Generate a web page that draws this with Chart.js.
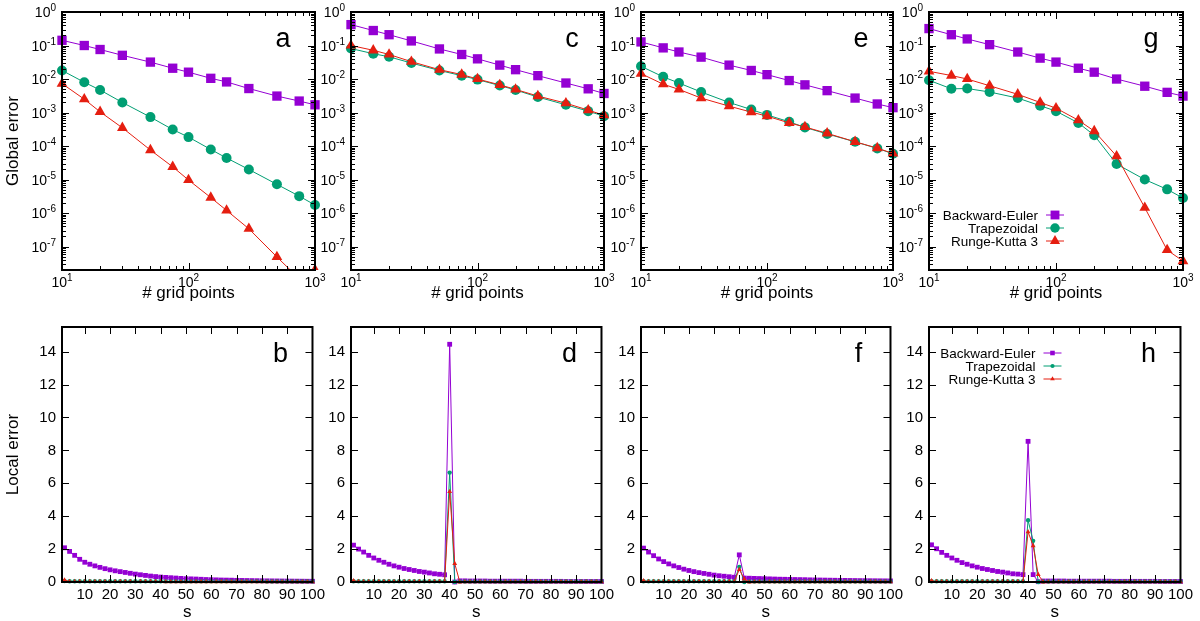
<!DOCTYPE html>
<html>
<head>
<meta charset="utf-8">
<script src="https://cdn.jsdelivr.net/npm/chart.js@4"></script>
<style>
  html, body { margin: 0; padding: 0; background: #fff; }
  #wrap { position: relative; width: 1200px; height: 621px; overflow: hidden; }
  #wrap canvas { position: absolute; }
</style>
</head>
<body>
<div id="wrap"></div>
<script>
// grid sizes used for the global error panels
const gridPoints = [10, 15, 20, 30, 50, 75, 100, 150, 200, 300, 500, 750, 1000];

const beA = [0.143, 0.10, 0.076, 0.051, 0.032, 0.021, 0.016, 0.0105, 0.0082, 0.0052, 0.0031, 0.0022, 0.0017];
const trA = [0.018, 0.0080, 0.0047, 0.0020, 7.3e-4, 3.1e-4, 1.85e-4, 7.9e-5, 4.4e-5, 2.0e-5, 7.2e-6, 3.2e-6, 1.74e-6];
const rkA = [0.0073, 0.0025, 0.00105, 3.5e-4, 7.6e-5, 2.4e-5, 9.7e-6, 2.9e-6, 1.2e-6, 3.4e-7, 4.9e-8, 1.1e-8, 2.0e-8];

const beC = [0.42, 0.28, 0.21, 0.137, 0.079, 0.054, 0.040, 0.026, 0.019, 0.0126, 0.0076, 0.0051, 0.0037];
const trC = [0.081, 0.057, 0.046, 0.030, 0.018, 0.0126, 0.0096, 0.0064, 0.0047, 0.0029, 0.0017, 0.0011, 7.8e-4];
const rkC = [0.10, 0.072, 0.054, 0.033, 0.019, 0.0136, 0.010, 0.0067, 0.0049, 0.0031, 0.0019, 0.00118, 8.3e-4];

const beE = [0.128, 0.085, 0.064, 0.045, 0.026, 0.018, 0.0135, 0.0090, 0.0067, 0.0045, 0.0027, 0.0018, 0.0014];
const trE = [0.024, 0.0116, 0.0076, 0.0041, 0.0020, 0.00123, 8.5e-4, 5.3e-4, 3.6e-4, 2.3e-4, 1.34e-4, 8.5e-5, 5.9e-5];
const rkE = [0.0145, 0.0070, 0.0049, 0.0027, 0.00155, 0.00103, 7.8e-4, 4.9e-4, 3.7e-4, 2.4e-4, 1.34e-4, 8.7e-5, 6.0e-5];

const beG = [0.32, 0.21, 0.157, 0.106, 0.064, 0.042, 0.032, 0.021, 0.016, 0.010, 0.0061, 0.0040, 0.0031];
const trG = [0.0092, 0.0051, 0.0052, 0.0041, 0.0027, 0.0016, 0.0011, 4.9e-4, 2.1e-4, 2.9e-5, 1.0e-5, 5.1e-6, 2.8e-6];
const rkG = [0.017, 0.0127, 0.010, 0.0063, 0.0035, 0.0020, 0.00135, 5.9e-4, 2.8e-4, 5.0e-5, 1.45e-6, 7.9e-8, 3.7e-8];

// s positions for the local error panels
const sPoints = [2, 4, 6, 8, 10, 12, 14, 16, 18, 20, 22, 24, 26, 28, 30, 32, 34, 36, 38, 40,
  42, 44, 46, 48, 50, 52, 54, 56, 58, 60, 62, 64, 66, 68, 70, 72, 74, 76, 78, 80,
  82, 84, 86, 88, 90, 92, 94, 96, 98, 100];

const beB = [2.08, 1.86, 1.62, 1.38, 1.20, 1.08, 0.98, 0.89, 0.81, 0.74, 0.68, 0.63, 0.58, 0.53, 0.48, 0.44, 0.40, 0.36, 0.33, 0.30,
  0.28, 0.26, 0.24, 0.22, 0.20, 0.19, 0.18, 0.165, 0.15, 0.14, 0.13, 0.12, 0.115, 0.11, 0.10, 0.095, 0.09, 0.085, 0.08, 0.075,
  0.07, 0.067, 0.064, 0.06, 0.057, 0.054, 0.051, 0.048, 0.045, 0.043];
const trB = [0.06, 0.05, 0.05, 0.05, 0.05, 0.05, 0.05, 0.05, 0.05, 0.05, 0.05, 0.05, 0.05, 0.05, 0.05, 0.05, 0.05, 0.05, 0.05, 0.05,
  0.04, 0.04, 0.04, 0.04, 0.04, 0.04, 0.04, 0.04, 0.04, 0.04, 0.04, 0.04, 0.04, 0.04, 0.04, 0.04, 0.04, 0.04, 0.04, 0.04,
  0.03, 0.03, 0.03, 0.03, 0.03, 0.03, 0.03, 0.03, 0.03, 0.03];
const rkB = [0.12, 0.02, 0.02, 0.02, 0.02, 0.02, 0.02, 0.02, 0.02, 0.02, 0.02, 0.02, 0.02, 0.02, 0.02, 0.02, 0.02, 0.02, 0.02, 0.02,
  0.01, 0.01, 0.01, 0.01, 0.01, 0.01, 0.01, 0.01, 0.01, 0.01, 0.01, 0.01, 0.01, 0.01, 0.01, 0.01, 0.01, 0.01, 0.01, 0.01,
  0.01, 0.01, 0.01, 0.01, 0.01, 0.01, 0.01, 0.01, 0.01, 0.01];

const beD = [2.24, 2.00, 1.82, 1.62, 1.46, 1.32, 1.20, 1.08, 0.98, 0.90, 0.82, 0.76, 0.70, 0.64, 0.60, 0.55, 0.50, 0.47, 0.44, 14.45,
  0.0, 0.07, 0.07, 0.06, 0.06, 0.06, 0.06, 0.05, 0.05, 0.05, 0.05, 0.05, 0.05, 0.05, 0.04, 0.04, 0.04, 0.04, 0.04, 0.04,
  0.04, 0.04, 0.03, 0.03, 0.03, 0.03, 0.03, 0.03, 0.03, 0.03];
const trD = [0.05, 0.05, 0.05, 0.05, 0.05, 0.05, 0.05, 0.05, 0.05, 0.05, 0.05, 0.05, 0.05, 0.05, 0.05, 0.05, 0.05, 0.05, 0.05, 6.65,
  0.0, 0.03, 0.03, 0.03, 0.03, 0.03, 0.03, 0.03, 0.03, 0.03, 0.03, 0.03, 0.03, 0.03, 0.03, 0.03, 0.03, 0.03, 0.03, 0.03,
  0.03, 0.03, 0.03, 0.03, 0.03, 0.03, 0.03, 0.03, 0.03, 0.03];
const rkD = [0.08, 0.02, 0.02, 0.02, 0.02, 0.02, 0.02, 0.02, 0.02, 0.02, 0.02, 0.02, 0.02, 0.02, 0.02, 0.02, 0.02, 0.02, 0.02, 5.5,
  1.12, 0.0, 0.01, 0.01, 0.01, 0.01, 0.01, 0.01, 0.01, 0.01, 0.01, 0.01, 0.01, 0.01, 0.01, 0.01, 0.01, 0.01, 0.01, 0.01,
  0.01, 0.01, 0.01, 0.01, 0.01, 0.01, 0.01, 0.01, 0.01, 0.01];

const beF = [2.06, 1.82, 1.60, 1.40, 1.24, 1.10, 0.98, 0.88, 0.78, 0.70, 0.63, 0.57, 0.52, 0.47, 0.42, 0.38, 0.35, 0.32, 0.29, 1.65,
  0.24, 0.23, 0.22, 0.21, 0.20, 0.19, 0.18, 0.17, 0.165, 0.16, 0.15, 0.145, 0.14, 0.13, 0.125, 0.12, 0.115, 0.11, 0.105, 0.10,
  0.096, 0.092, 0.088, 0.084, 0.08, 0.077, 0.074, 0.071, 0.068, 0.065];
const trF = [0.05, 0.05, 0.05, 0.05, 0.05, 0.05, 0.05, 0.05, 0.05, 0.05, 0.05, 0.05, 0.05, 0.05, 0.05, 0.05, 0.05, 0.05, 0.05, 0.92,
  0.0, 0.03, 0.03, 0.03, 0.03, 0.03, 0.03, 0.03, 0.03, 0.03, 0.03, 0.03, 0.03, 0.03, 0.03, 0.03, 0.03, 0.03, 0.03, 0.03,
  0.03, 0.03, 0.03, 0.03, 0.03, 0.03, 0.03, 0.03, 0.03, 0.03];
const rkF = [0.08, 0.02, 0.02, 0.02, 0.02, 0.02, 0.02, 0.02, 0.02, 0.02, 0.02, 0.02, 0.02, 0.02, 0.02, 0.02, 0.02, 0.02, 0.02, 0.76,
  0.18, 0.0, 0.01, 0.01, 0.01, 0.01, 0.01, 0.01, 0.01, 0.01, 0.01, 0.01, 0.01, 0.01, 0.01, 0.01, 0.01, 0.01, 0.01, 0.01,
  0.01, 0.01, 0.01, 0.01, 0.01, 0.01, 0.01, 0.01, 0.01, 0.01];

const beH = [2.26, 2.02, 1.80, 1.62, 1.46, 1.32, 1.18, 1.08, 0.98, 0.90, 0.82, 0.76, 0.70, 0.64, 0.60, 0.55, 0.50, 0.48, 0.45, 8.55,
  0.45, 0.02, 0.06, 0.06, 0.06, 0.06, 0.06, 0.05, 0.05, 0.05, 0.05, 0.05, 0.05, 0.05, 0.05, 0.05, 0.04, 0.04, 0.04, 0.04,
  0.04, 0.04, 0.04, 0.04, 0.04, 0.03, 0.03, 0.03, 0.03, 0.03];
const trH = [0.05, 0.05, 0.05, 0.05, 0.05, 0.05, 0.05, 0.05, 0.05, 0.05, 0.05, 0.05, 0.05, 0.05, 0.05, 0.05, 0.05, 0.05, 0.05, 3.75,
  2.5, 0.0, 0.03, 0.03, 0.03, 0.03, 0.03, 0.03, 0.03, 0.03, 0.03, 0.03, 0.03, 0.03, 0.03, 0.03, 0.03, 0.03, 0.03, 0.03,
  0.03, 0.03, 0.03, 0.03, 0.03, 0.03, 0.03, 0.03, 0.03, 0.03];
const rkH = [0.08, 0.02, 0.02, 0.02, 0.02, 0.02, 0.02, 0.02, 0.02, 0.02, 0.02, 0.02, 0.02, 0.02, 0.02, 0.02, 0.02, 0.02, 0.02, 3.05,
  2.2, 0.45, 0.0, 0.01, 0.01, 0.01, 0.01, 0.01, 0.01, 0.01, 0.01, 0.01, 0.01, 0.01, 0.01, 0.01, 0.01, 0.01, 0.01, 0.01,
  0.01, 0.01, 0.01, 0.01, 0.01, 0.01, 0.01, 0.01, 0.01, 0.01];

const logXTicks = [10, 100, 1000];
const logYTicks = [1e-7, 1e-6, 1e-5, 1e-4, 1e-3, 1e-2, 1e-1, 1];
const sTicks = [10, 20, 30, 40, 50, 60, 70, 80, 90, 100];
const localTicks = [0, 2, 4, 6, 8, 10, 12, 14];

const seriesNames = ["Backward-Euler", "Trapezoidal", "Runge-Kutta 3"];
const colors = ["#9400d3", "#009e73", "#e51e10"];
const styles = ["rect", "circle", "triangle"];
const bigRadius = [6.6, 5, 6.2];
const smallRadius = [3.4, 2.2, 2.8];

const FONT = '"Liberation Sans", Arial, sans-serif';

const panels = [
  { letter: "a", row: 0, L: 62, R: 315, data: [beA, trA, rkA] },
  { letter: "c", row: 0, L: 351, R: 604, data: [beC, trC, rkC] },
  { letter: "e", row: 0, L: 641, R: 893, data: [beE, trE, rkE] },
  { letter: "g", row: 0, L: 929, R: 1183, data: [beG, trG, rkG], legendTop: 203 },
  { letter: "b", row: 1, L: 62, R: 315, data: [beB, trB, rkB] },
  { letter: "d", row: 1, L: 351, R: 604, data: [beD, trD, rkD] },
  { letter: "f", row: 1, L: 641, R: 893, data: [beF, trF, rkF] },
  { letter: "h", row: 1, L: 929, R: 1183, data: [beH, trH, rkH], legendTop: 26 },
];

// "10" with a raised exponent, like gnuplot's enhanced text
function drawPow(ctx, v, x, y, align) {
  const base = "10";
  const ex = String(Math.round(Math.log10(v)));
  ctx.font = "14px " + FONT;
  const wb = ctx.measureText(base).width;
  ctx.font = "10px " + FONT;
  const we = ctx.measureText(ex).width;
  const x0 = align === "right" ? x - wb - we : x - (wb + we) / 2;
  ctx.textAlign = "left";
  ctx.textBaseline = "alphabetic";
  ctx.font = "14px " + FONT;
  ctx.fillText(base, x0, y);
  ctx.font = "10px " + FONT;
  ctx.fillText(ex, x0 + wb, y - 6);
}

function minorLog(min, max) {
  const out = [];
  for (let e = Math.floor(Math.log10(min)); e <= Math.ceil(Math.log10(max)); e++) {
    for (let k = 2; k <= 9; k++) {
      const v = k * Math.pow(10, e);
      if (v > min && v < max) out.push(v);
    }
  }
  return out;
}

// frame, inward ticks, log labels, panel letter and gnuplot-like key
const framePlugin = {
  id: "frame",
  afterDraw(chart, args, opts) {
    const { ctx, chartArea: a, scales } = chart;
    const x = scales.x, y = scales.y;
    ctx.save();
    ctx.strokeStyle = "#000";
    ctx.lineWidth = 1;
    const seg = (x1, y1, x2, y2) => {
      ctx.beginPath(); ctx.moveTo(x1, y1); ctx.lineTo(x2, y2); ctx.stroke();
    };
    const xTick = (v, len) => {
      const px = Math.round(x.getPixelForValue(v)) + 0.5;
      seg(px, a.bottom, px, a.bottom - len);
      seg(px, a.top, px, a.top + len);
    };
    const yTick = (v, len) => {
      const py = Math.round(y.getPixelForValue(v)) + 0.5;
      seg(a.left, py, a.left + len, py);
      seg(a.right, py, a.right - len, py);
    };
    x.ticks.forEach((t) => xTick(t.value, 7));
    y.ticks.forEach((t) => yTick(t.value, 7));
    if (opts.log) {
      minorLog(x.min, x.max).forEach((v) => xTick(v, 4));
      minorLog(y.min, y.max).forEach((v) => yTick(v, 4));
    }
    ctx.lineWidth = 2;
    ctx.strokeRect(a.left, a.top, a.width, a.height);

    ctx.fillStyle = "#000";
    if (opts.log) {
      x.ticks.forEach((t) => drawPow(ctx, t.value, x.getPixelForValue(t.value), a.bottom + 17, "center"));
      y.ticks.forEach((t) => drawPow(ctx, t.value, a.left - 6, y.getPixelForValue(t.value) + 5, "right"));
    }

    ctx.font = "27px " + FONT;
    ctx.textAlign = "center";
    ctx.textBaseline = "alphabetic";
    ctx.fillText(opts.letter, a.right - 32, a.top + 35);

    if (opts.legendTop != null) {
      ctx.font = "13.5px " + FONT;
      ctx.textAlign = "right";
      ctx.textBaseline = "middle";
      const radii = opts.log ? bigRadius : smallRadius;
      seriesNames.forEach((name, i) => {
        const ly = a.top + opts.legendTop + i * 13;
        ctx.fillStyle = "#000";
        ctx.fillText(name, a.right - 145, ly + 1);
        ctx.strokeStyle = colors[i];
        ctx.lineWidth = 1;
        seg(a.right - 137, ly, a.right - 119, ly);
        ctx.fillStyle = colors[i];
        Chart.helpers.drawPoint(ctx, { pointStyle: styles[i], radius: radii[i] * 0.95, rotation: 0, borderWidth: 0 }, a.right - 128, ly);
      });
    }
    ctx.restore();
  },
};

const wrap = document.getElementById("wrap");

panels.forEach((p) => {
  const log = p.row === 0;
  const T = log ? 12 : 324;
  const B = log ? 270 : 582;
  const padT = 12, padR = 14;
  const padB = log ? 36 : 39;
  const padL = p.L < 100 ? p.L : 46;
  const w = p.R - p.L + padL + padR;
  const h = B - T + padT + padB;

  const cv = document.createElement("canvas");
  cv.width = w; cv.height = h;
  cv.style.left = (p.L - padL) + "px";
  cv.style.top = (T - padT) + "px";
  cv.style.width = w + "px";
  cv.style.height = h + "px";
  wrap.appendChild(cv);

  const xs = log ? gridPoints : sPoints;
  const radii = log ? bigRadius : smallRadius;
  // draw order: RK3 on top, then trapezoidal, then backward-Euler
  const datasets = [2, 1, 0].map((i) => ({
    label: seriesNames[i],
    data: xs.map((xv, k) => ({ x: xv, y: p.data[i][k] })),
    borderColor: colors[i],
    backgroundColor: colors[i],
    borderWidth: 1,
    pointStyle: styles[i],
    pointRadius: radii[i],
    pointBorderWidth: 0,
    pointBackgroundColor: colors[i],
    tension: 0,
    clip: log ? { left: 10, right: 10, top: 10, bottom: 0 } : false,
  }));

  const tickFont = { family: FONT, size: 15 };
  const first = p.L < 100;

  new Chart(cv, {
    type: "line",
    data: { datasets },
    options: {
      responsive: false,
      animation: false,
      devicePixelRatio: 1,
      layout: { padding: { left: 0, top: padT, right: padR, bottom: 0 } },
      scales: {
        x: {
          type: log ? "logarithmic" : "linear",
          min: log ? 10 : 1,
          max: log ? 1000 : 100,
          afterBuildTicks: (s) => { s.ticks = (log ? logXTicks : sTicks).map((v) => ({ value: v })); },
          afterFit: (s) => { s.height = padB; },
          grid: { display: false, drawTicks: false },
          border: { display: false },
          ticks: {
            display: !log,
            color: "#000",
            font: tickFont,
            padding: 4,
            maxRotation: 0,
            autoSkip: false,
          },
          title: {
            display: true,
            text: log ? "# grid points" : "s",
            color: "#000",
            font: { family: FONT, size: 17, lineHeight: 1 },
            padding: { top: 0, bottom: log ? 4.5 : 0 },
          },
        },
        y: {
          type: log ? "logarithmic" : "linear",
          min: log ? 2e-8 : 0,
          max: log ? 1 : 15.5,
          afterBuildTicks: (s) => { s.ticks = (log ? logYTicks : localTicks).map((v) => ({ value: v })); },
          afterFit: (s) => { s.width = padL; },
          grid: { display: false, drawTicks: false },
          border: { display: false },
          ticks: {
            display: !log,
            color: "#000",
            font: tickFont,
            padding: 6,
            autoSkip: false,
          },
          title: {
            display: first,
            text: log ? "Global error" : "Local error",
            color: "#000",
            font: { family: FONT, size: 17, lineHeight: 1 },
            padding: { top: 4.5, bottom: 0 },
          },
        },
      },
      plugins: {
        legend: { display: false },
        tooltip: { enabled: false },
        frame: { letter: p.letter, log: log, legendTop: p.legendTop },
      },
    },
    plugins: [framePlugin],
  });
});
</script>
</body>
</html>
